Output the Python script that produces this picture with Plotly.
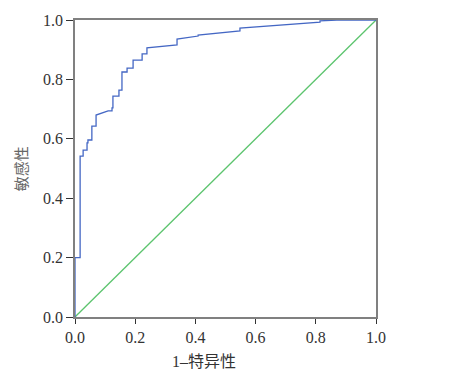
import plotly.graph_objects as go

# ROC curve points (1 - specificity, sensitivity)
fpr = [0, 0, 0.017, 0.017, 0.027, 0.027, 0.040, 0.040, 0.043, 0.043, 0.056, 0.056,
       0.070, 0.070, 0.110, 0.123, 0.123, 0.126, 0.126, 0.146, 0.146, 0.156, 0.156,
       0.173, 0.173, 0.193, 0.193, 0.223, 0.223, 0.239, 0.239, 0.339, 0.339, 0.409,
       0.409, 0.548, 0.548, 0.648, 0.814, 0.814, 0.870, 1.0]
tpr = [0, 0.200, 0.200, 0.542, 0.542, 0.562, 0.562, 0.586, 0.586, 0.596, 0.596, 0.643,
       0.643, 0.680, 0.694, 0.694, 0.704, 0.704, 0.744, 0.744, 0.764, 0.764, 0.825,
       0.825, 0.838, 0.838, 0.865, 0.865, 0.886, 0.886, 0.906, 0.916, 0.936, 0.946,
       0.949, 0.963, 0.973, 0.980, 0.993, 0.997, 1.0, 1.0]

ref_x = [0, 1]
ref_y = [0, 1]

tick_vals = [0, 0.2, 0.4, 0.6, 0.8, 1.0]
tick_text = ["0.0", "0.2", "0.4", "0.6", "0.8", "1.0"]

SERIF = "Times New Roman, Liberation Serif, serif"

fig = go.Figure()
fig.add_trace(go.Scatter(x=ref_x, y=ref_y, mode="lines",
                         line=dict(color="#5cc46e", width=1.3), showlegend=False))
fig.add_trace(go.Scatter(x=fpr, y=tpr, mode="lines",
                         line=dict(color="#4467c4", width=1.3), showlegend=False))

axis_common = dict(range=[0, 1], tickvals=tick_vals, ticktext=tick_text,
                   showgrid=False, zeroline=False, showline=True, mirror=True,
                   linecolor="#808080", linewidth=1.5, ticks="outside",
                   tickcolor="#333333", tickwidth=1.2, automargin=False,
                   tickfont=dict(family=SERIF, size=16, color="#333333"))

fig.update_xaxes(**axis_common, ticklen=5)
fig.update_yaxes(**axis_common, ticklen=7)

fig.add_annotation(text="1–特异性", xref="paper", yref="paper", x=0.43, y=-0.115,
                   xanchor="center", yanchor="top", showarrow=False,
                   font=dict(family=SERIF + ", Noto Sans CJK SC", size=16, color="#333333"))
fig.add_annotation(text="敏感性", xref="paper", yref="paper", x=-0.18, y=0.5,
                   xanchor="center", yanchor="middle", showarrow=False, textangle=-90,
                   font=dict(family="Noto Sans CJK SC", size=15, color="#666666"))

fig.update_layout(width=450, height=367, margin=dict(l=67, r=82, t=12, b=58),
                  plot_bgcolor="white", paper_bgcolor="white")

fig.write_html("out.html")
